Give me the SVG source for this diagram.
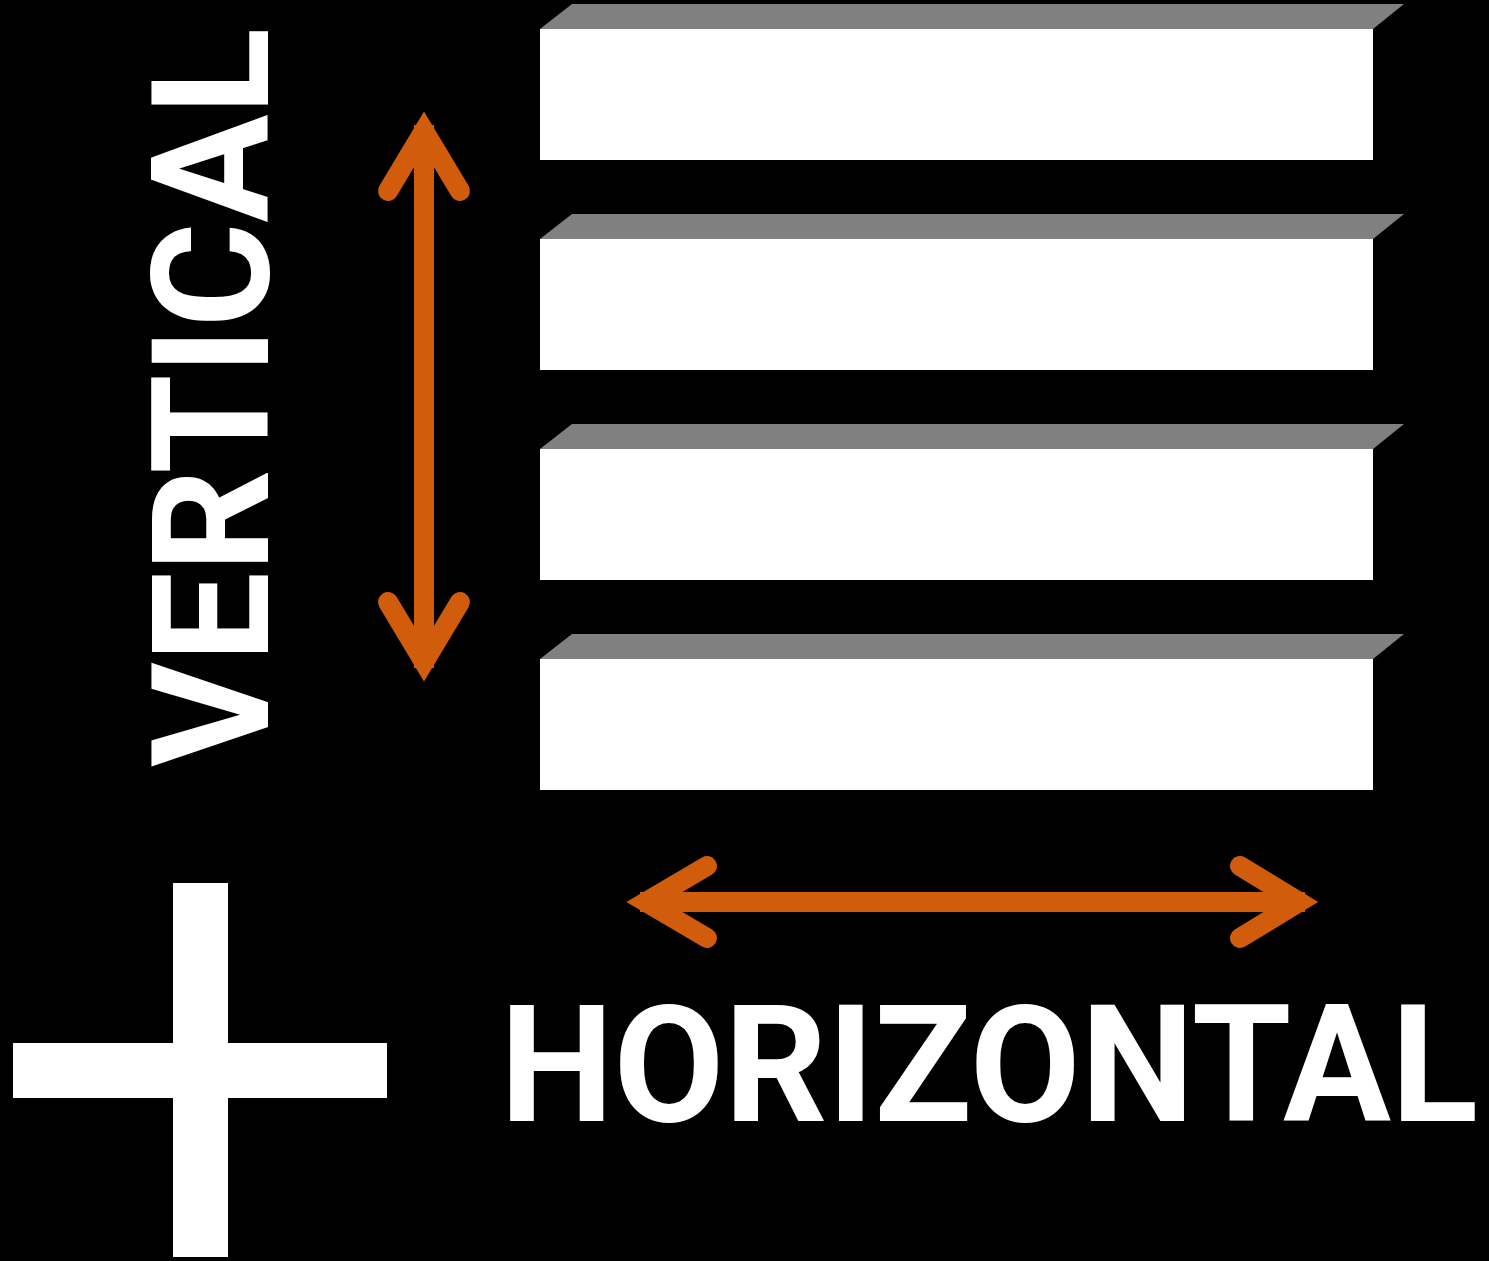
<svg xmlns="http://www.w3.org/2000/svg" width="1489" height="1261" viewBox="0 0 1489 1261">
<style>
.top{fill:#808080}
.face{fill:#ffffff}
.arrow{fill:none;stroke:#D05C0C;stroke-width:20;stroke-linecap:round;stroke-linejoin:miter;stroke-miterlimit:10}
.shaft{stroke:#D05C0C;stroke-width:20}
.label{font-family:Roboto,"Liberation Sans",sans-serif;font-weight:bold;font-size:163px;fill:#ffffff}
.cross{fill:#ffffff}
</style>
<rect x="0" y="0" width="1489" height="1261" fill="#000000"/>
<g id="slat1"><polygon class="top" points="572,4 1404,4 1373,29 540,29"/><rect class="face" x="540" y="29" width="833" height="131"/></g>
<g id="slat2"><polygon class="top" points="572,214 1404,214 1373,239 540,239"/><rect class="face" x="540" y="239" width="833" height="131"/></g>
<g id="slat3"><polygon class="top" points="572,424 1404,424 1373,449 540,449"/><rect class="face" x="540" y="449" width="833" height="131"/></g>
<g id="slat4"><polygon class="top" points="572,634 1404,634 1373,659 540,659"/><rect class="face" x="540" y="659" width="833" height="131"/></g>
<g id="connectors">
<g id="vertical-arrow">
<line class="shaft" x1="424" y1="125" x2="424" y2="668"/>
<polyline class="arrow" points="388,191 424,131 460,191"/>
<polyline class="arrow" points="388,602 424,662 460,602"/>
</g>
<g id="horizontal-arrow">
<line class="shaft" x1="640" y1="902" x2="1305" y2="902"/>
<polyline class="arrow" points="707,866 646,902 707,938"/>
<polyline class="arrow" points="1240,866 1299,902 1240,938"/>
</g>
</g>
<g id="vertical-label"><text class="label" transform="translate(268,767) rotate(-90)" x="0" y="0" textLength="739" lengthAdjust="spacingAndGlyphs">VERTICAL</text></g>
<g id="horizontal-label"><text class="label" x="500" y="1121" textLength="978" lengthAdjust="spacingAndGlyphs">HORIZONTAL</text></g>
<g id="plus"><rect class="cross" x="173" y="883" width="55" height="374"/><rect class="cross" x="13" y="1043" width="374" height="55"/></g>
</svg>
